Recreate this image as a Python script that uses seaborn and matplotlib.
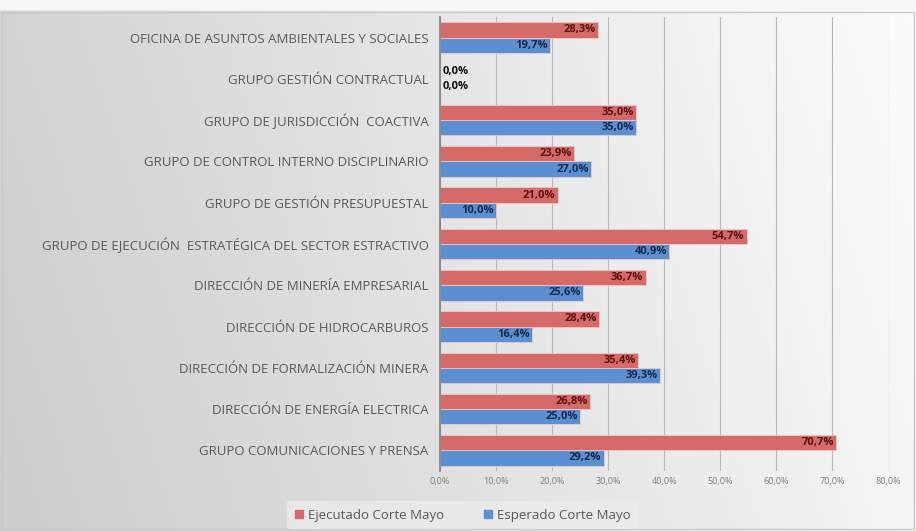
import numpy as np
import pandas as pd
import matplotlib
matplotlib.use("Agg")
import matplotlib.pyplot as plt
import seaborn as sns

# Chart data (top to bottom as shown)
areas = [
    "OFICINA DE ASUNTOS AMBIENTALES Y SOCIALES",
    "GRUPO GESTIÓN CONTRACTUAL",
    "GRUPO DE JURISDICCIÓN  COACTIVA",
    "GRUPO DE CONTROL INTERNO DISCIPLINARIO",
    "GRUPO DE GESTIÓN PRESUPUESTAL",
    "GRUPO DE EJECUCIÓN  ESTRATÉGICA DEL SECTOR ESTRACTIVO",
    "DIRECCIÓN DE MINERÍA EMPRESARIAL",
    "DIRECCIÓN DE HIDROCARBUROS",
    "DIRECCIÓN DE FORMALIZACIÓN MINERA",
    "DIRECCIÓN DE ENERGÍA ELECTRICA",
    "GRUPO COMUNICACIONES Y PRENSA",
]
ejecutado = [28.3, 0.0, 35.0, 23.9, 21.0, 54.7, 36.7, 28.4, 35.4, 26.8, 70.7]
esperado = [19.7, 0.0, 35.0, 27.0, 10.0, 40.9, 25.6, 16.4, 39.3, 25.0, 29.2]
series_names = ["Ejecutado Corte Mayo", "Esperado Corte Mayo"]
x_ticks = [0, 10, 20, 30, 40, 50, 60, 70, 80]

df = pd.DataFrame({
    "Area": areas * 2,
    "Valor": ejecutado + esperado,
    "Serie": [series_names[0]] * len(areas) + [series_names[1]] * len(areas),
})

red = "#d66a68"
blue = "#5b8fd2"

sns.set_theme(style="white")
plt.rcParams["font.family"] = ["Open Sans", "DejaVu Sans"]

fig = plt.figure(figsize=(9.16, 5.31), dpi=100)

# gradient background (grey on the left, light on the right)
bg = fig.add_axes([0, 0, 1, 1], zorder=-10)
gx = np.linspace(0, 1, 300)
gy = np.linspace(0, 1, 200)
GX, GY = np.meshgrid(gx, gy)
shade = 0.80 + 0.16 * GX + 0.03 * (1 - GY)
shade = np.clip(shade, 0, 1)
shade[:4, :] = 0.97
bg.imshow(np.dstack([shade, shade, shade]), aspect="auto", extent=[0, 1, 0, 1], origin="upper")
bg.axis("off")
bg.add_patch(plt.Rectangle((0.002, 0.003), 0.996, 0.975, fill=False,
                           edgecolor="#c8c8c8", linewidth=1, transform=bg.transAxes))

ax = fig.add_axes([0.480, 0.113, 0.490, 0.855])
ax.set_facecolor("none")
sns.barplot(data=df, y="Area", x="Valor", hue="Serie", orient="h",
            palette=[red, blue], width=0.74, ax=ax, legend=False,
            edgecolor="#f0c8c8", linewidth=0.6, saturation=1)

ax.set_xlim(0, 80)
ax.set_xticks(x_ticks)
ax.set_xticklabels([f"{t:.1f}%".replace(".", ",") for t in x_ticks],
                   fontsize=6.5, color="#7f7f7f")
ax.tick_params(axis="y", labelsize=9.5, labelcolor="#595959", length=0, pad=8)
ax.tick_params(axis="x", length=0, pad=4)
ax.set_xlabel("")
ax.set_ylabel("")
ax.grid(axis="x", color="#b8b8b8", linewidth=0.8)
ax.set_axisbelow(True)
for s in ["top", "right", "bottom"]:
    ax.spines[s].set_visible(False)
ax.spines["left"].set_color("#7f7f7f")
ax.spines["left"].set_linewidth(1.2)

text_colors = ["#5a1212", "#152a4a"]
for cont, tc in zip(ax.containers, text_colors):
    for p in cont:
        w = p.get_width()
        yc = p.get_y() + p.get_height() / 2
        lab = f"{w:.1f}%".replace(".", ",")
        if w == 0:
            ax.text(0.6, yc, lab, ha="left", va="center", fontsize=8,
                    fontweight="bold", color="#111111")
        else:
            ax.text(w - 0.4, yc, lab, ha="right", va="center", fontsize=8,
                    fontweight="bold", color=tc)

handles = [plt.Rectangle((0, 0), 1, 1, color=red), plt.Rectangle((0, 0), 1, 1, color=blue)]
leg = fig.legend(handles, series_names, loc="center", bbox_to_anchor=(0.505, 0.03),
                 ncol=2, fontsize=9.5, frameon=True, handlelength=0.6, handleheight=0.6,
                 columnspacing=3.0, handletextpad=0.4, borderpad=0.55)
leg.get_frame().set_facecolor("#ececec")
leg.get_frame().set_edgecolor("none")
for t in leg.get_texts():
    t.set_color("#595959")

fig.savefig("out.png", dpi=100)
